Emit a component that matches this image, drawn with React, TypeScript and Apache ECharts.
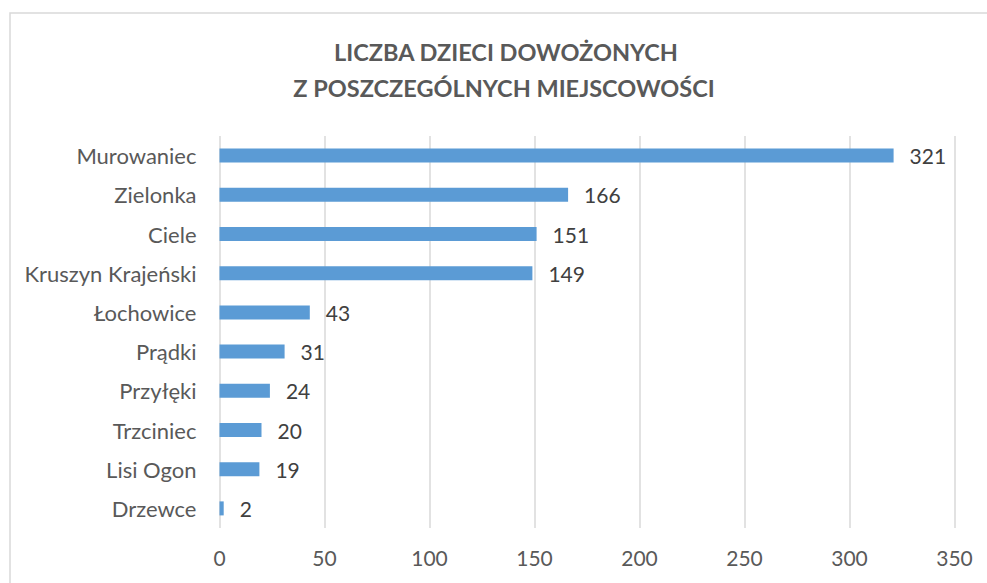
import React, { useEffect, useRef } from "react";
import * as echarts from "echarts";

const titleLines = ["LICZBA DZIECI DOWOŻONYCH", "Z POSZCZEGÓLNYCH MIEJSCOWOŚCI"];
const categories = [
  "Murowaniec",
  "Zielonka",
  "Ciele",
  "Kruszyn Krajeński",
  "Łochowice",
  "Prądki",
  "Przyłęki",
  "Trzciniec",
  "Lisi Ogon",
  "Drzewce",
];
const values = [321, 166, 151, 149, 43, 31, 24, 20, 19, 2];
const xMin = 0;
const xMax = 350;
const xStep = 50;

const FONT = "Lato, 'Open Sans', sans-serif";

export default function App() {
  const ref = useRef<HTMLDivElement>(null);
  useEffect(() => {
    if (!ref.current) return;
    const chart = echarts.init(ref.current, undefined, { renderer: "svg" });
    chart.setOption({
      animation: false,
      backgroundColor: "#ffffff",
      graphic: [
        {
          type: "rect",
          shape: { x: 10, y: 13, width: 1000, height: 620 },
          style: { fill: "none", stroke: "#d9d9d9", lineWidth: 1.5 },
          silent: true,
        },
        {
          type: "text",
          x: 506,
          y: 52,
          style: {
            text: titleLines[0],
            font: `bold 23.5px ${FONT}`,
            fill: "#595959",
            textAlign: "center",
            textVerticalAlign: "middle",
          },
        },
        {
          type: "text",
          x: 504,
          y: 88,
          style: {
            text: titleLines[1],
            font: `bold 23.5px ${FONT}`,
            fill: "#595959",
            textAlign: "center",
            textVerticalAlign: "middle",
          },
        },
      ],
      grid: { left: 219.5, right: 32.5, top: 136, height: 392, containLabel: false },
      xAxis: {
        type: "value",
        min: xMin,
        max: xMax,
        interval: xStep,
        axisLine: { show: false },
        axisTick: { show: false },
        splitLine: { show: true, lineStyle: { color: "#d9d9d9", width: 1.5 } },
        axisLabel: { color: "#595959", fontFamily: FONT, fontSize: 21, margin: 19 },
      },
      yAxis: {
        type: "category",
        inverse: true,
        data: categories,
        axisLine: { show: false },
        axisTick: { show: false },
        axisLabel: { color: "#595959", fontFamily: FONT, fontSize: 22, margin: 23 },
      },
      series: [
        {
          type: "bar",
          data: values,
          barWidth: 14,
          itemStyle: { color: "#5b9bd5" },
          label: {
            show: true,
            position: "right",
            distance: 16,
            color: "#404040",
            fontFamily: FONT,
            fontSize: 21,
          },
        },
      ],
    });
    return () => chart.dispose();
  }, []);
  return (
    <div
      ref={ref}
      style={{ position: "fixed", left: 0, top: 0, width: 987, height: 583 }}
    />
  );
}
